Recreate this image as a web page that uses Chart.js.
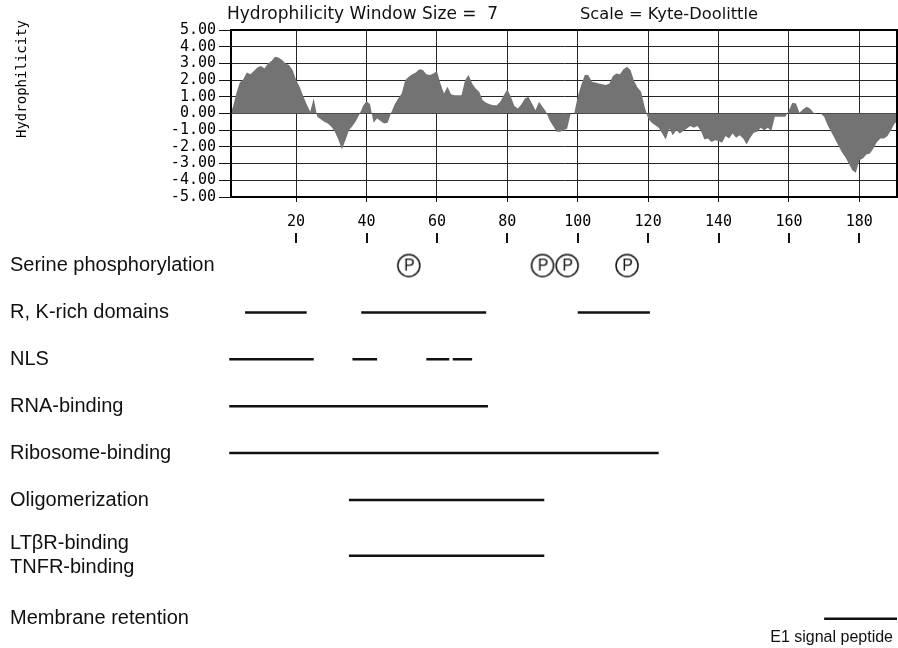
<!DOCTYPE html>
<html><head><meta charset="utf-8">
<script src="https://cdn.jsdelivr.net/npm/chart.js@4.4.1/dist/chart.umd.min.js"></script>
<style>
html,body{margin:0;padding:0;background:#fff;}
#wrap{position:relative;width:898px;height:648px;overflow:hidden;background:#fff;}
#c1{position:absolute;left:0;top:0;}
#c2{position:absolute;left:0;top:228px;}
</style></head><body>
<div id="wrap"><canvas id="c1" width="898" height="228"></canvas><canvas id="c2" width="898" height="420"></canvas></div>
<script>
// ---------- data ----------
const titleLeft = 'Hydrophilicity Window Size =  7';
const titleRight = 'Scale = Kyte-Doolittle';
const yAxisTitle = 'Hydrophilicity';
const firstResidue = 1;
const hydrophilicity = [
  0, 0.35, 1.2, 1.85, 2.05, 2.45, 2.35, 2.55, 2.75, 2.85,
  2.7, 3.0, 3.15, 3.4, 3.35, 3.2, 3.0, 2.9, 2.6, 2.0,
  1.6, 1.05, 0.55, 0.1, 0.9, -0.2, -0.35, -0.5, -0.6, -0.8,
  -1.1, -1.55, -2.15, -1.6, -1.0, -0.75, -0.45, -0.05, 0.45, 0.75,
  0.55, -0.55, -0.3, -0.45, -0.6, -0.55, 0.05, 0.55, 0.9, 1.2,
  2.0, 2.2, 2.35, 2.45, 2.65, 2.6, 2.35, 2.3, 2.4, 2.55,
  1.8, 1.2, 1.6, 1.15, 1.1, 1.1, 1.1, 2.0, 2.3, 1.8,
  1.5, 1.3, 0.8, 0.65, 0.55, 0.5, 0.5, 0.7, 1.1, 1.45,
  1.0, 0.45, 0.3, 0.55, 0.9, 1.0, 0.6, 0.2, 0.7, 0.4,
  0.1, -0.4, -0.75, -1.1, -1.1, -1.0, -0.9, 0, 0, 1.0,
  1.7, 2.3, 2.3, 1.9, 1.85, 1.8, 1.75, 1.7, 1.8, 2.25,
  2.4, 2.35, 2.65, 2.8, 2.6, 1.95, 1.55, 1.3, 0.4, -0.3,
  -0.55, -0.7, -0.85, -1.2, -1.55, -0.9, -1.3, -1.0, -1.2, -1.05,
  -0.9, -0.75, -0.85, -0.75, -1.05, -1.55, -1.5, -1.7, -1.6, -1.65,
  -1.75, -1.35, -1.5, -1.2, -1.45, -1.3, -1.5, -1.85, -1.45, -1.15,
  -1.1, -0.85, -1.0, -0.85, -1.05, -0.2, -0.2, -0.2, -0.2, 0.2,
  0.65, 0.6, 0.05, 0.25, 0.4, 0.3, 0.05, 0, 0, -0.2,
  -0.7, -1.1, -1.5, -1.9, -2.3, -2.6, -3.0, -3.4, -3.55, -2.8,
  -2.7, -2.45, -2.4, -2.1, -1.7, -1.5, -1.5, -1.35, -1.0, -0.6,
  -0.45
];
const residues = hydrophilicity.map((_, i) => firstResidue + i);
const xTickValues = [20, 40, 60, 80, 100, 120, 140, 160, 180];
const yTickValues = [-5, -4, -3, -2, -1, 0, 1, 2, 3, 4, 5];

const featureLabels = [
  'Serine phosphorylation',
  'R, K-rich domains',
  'NLS',
  'RNA-binding',
  'Ribosome-binding',
  'Oligomerization',
  ['LT\u03b2R-binding', 'TNFR-binding'],
  'Membrane retention'
];
const phosphoSites = [52, 90, 97, 114];
const rkRichDomains = [[5.5, 23], [38.5, 74], [100, 120.5]];
const nlsSegments = [[1, 25], [36, 43], [57, 63.5], [64.5, 70]];
const rnaBinding = [[1, 74.5]];
const ribosomeBinding = [[1, 123]];
const oligomerization = [[35, 90.5]];
const receptorBinding = [[35, 90.5]];
const membraneRetention = [[170, 190.7]];
const membraneNote = 'E1 signal peptide';

// ---------- layout (not data) ----------
const X_MIN = 1.5, X_MAX = 190.7;
const rowSlots = [0, 1, 2, 3, 4, 5, 6.19, 7.53];
const mono = "'DejaVu Sans Mono', monospace";
const sans = "'Liberation Sans', Arial, sans-serif";

Chart.defaults.animation = false;

// ---------- hydrophilicity plot ----------
const framePlugin = {
  id: 'frameAndTitles',
  afterDraw(chart) {
    const {ctx, chartArea: a} = chart;
    ctx.save();
    ctx.strokeStyle = '#000';
    ctx.lineWidth = 2;
    ctx.strokeRect(a.left, a.top, a.right - a.left, a.bottom - a.top);
    ctx.fillStyle = '#111';
    ctx.textBaseline = 'middle';
    ctx.textAlign = 'left';
    ctx.font = "17px 'DejaVu Sans', sans-serif";
    ctx.fillText(titleLeft, a.left - 4, 15);
    ctx.font = "16.3px 'DejaVu Sans', sans-serif";
    ctx.fillText(titleRight, a.left + 349, 15);
    // rotated y-axis title
    ctx.save();
    ctx.translate(22, a.top - 10);
    ctx.rotate(-Math.PI / 2);
    ctx.font = "14px " + mono;
    ctx.fillStyle = '#000';
    ctx.textAlign = 'right';
    ctx.textBaseline = 'middle';
    ctx.fillText(yAxisTitle, 0, 0);
    ctx.restore();
    ctx.restore();
  }
};

new Chart(document.getElementById('c1'), {
  type: 'line',
  data: {
    datasets: [{
      data: residues.map((r, i) => ({x: r, y: hydrophilicity[i]})),
      fill: 'origin',
      backgroundColor: '#737373',
      borderWidth: 0,
      pointRadius: 0,
      tension: 0
    }]
  },
  options: {
    responsive: false,
    animation: false,
    events: [],
    layout: {autoPadding: false, padding: {left: 0, right: 1, top: 30, bottom: 0}},
    plugins: {legend: {display: false}, tooltip: {enabled: false}},
    scales: {
      x: {
        type: 'linear', min: X_MIN, max: X_MAX, z: 1,
        afterBuildTicks: s => { s.ticks = xTickValues.map(v => ({value: v})); },
        afterFit: s => { s.height = 31; s.paddingLeft = 0; s.paddingRight = 0; },
        ticks: {font: {family: mono, size: 15}, color: '#000', padding: 11, autoSkip: false, maxRotation: 0,
                callback: v => String(v)},
        grid: {color: '#262626', lineWidth: 1, tickLength: 5, tickColor: '#111'},
        border: {color: '#000', width: 2}
      },
      y: {
        type: 'linear', min: -5, max: 5, z: 1,
        afterBuildTicks: s => { s.ticks = yTickValues.map(v => ({value: v})); },
        afterFit: s => { s.width = 231; s.paddingTop = 0; s.paddingBottom = 0; },
        ticks: {font: {family: mono, size: 15}, color: '#000', padding: 3, autoSkip: false,
                callback: v => Number(v).toFixed(2)},
        grid: {color: '#262626', lineWidth: 1, tickLength: 12, tickColor: '#111'},
        border: {color: '#000', width: 2}
      }
    }
  },
  plugins: [framePlugin]
});

// ---------- feature map ----------
function pIcon() {
  const c = document.createElement('canvas');
  c.width = 28; c.height = 28;
  const g = c.getContext('2d');
  g.strokeStyle = '#111';
  g.lineWidth = 1.5;
  g.beginPath(); g.arc(14, 14, 11, 0, Math.PI * 2); g.stroke();
  g.fillStyle = '#111';
  g.font = "16px 'Liberation Sans', Arial, sans-serif";
  g.textAlign = 'center'; g.textBaseline = 'middle';
  g.fillText('P', 14.5, 15);
  return c;
}

function segData(segs, slot) {
  const out = [];
  segs.forEach((s, i) => {
    if (i > 0) out.push({x: s[0], y: null});
    out.push({x: s[0], y: slot}, {x: s[1], y: slot});
  });
  return out;
}

const lineRows = [null, rkRichDomains, nlsSegments, rnaBinding, ribosomeBinding, oligomerization, receptorBinding, membraneRetention];
const featureSets = [{
  type: 'scatter',
  data: phosphoSites.map(r => ({x: r, y: rowSlots[0]})),
  pointStyle: pIcon(),
  pointRadius: 11,
  clip: false
}];
lineRows.forEach((segs, i) => {
  if (!segs) return;
  featureSets.push({
    type: 'line',
    data: segData(segs, rowSlots[i]),
    borderColor: '#111',
    borderWidth: 2.5,
    borderCapStyle: 'butt',
    pointRadius: 0,
    spanGaps: false,
    clip: false
  });
});

const notePlugin = {
  id: 'membraneNote',
  afterDatasetsDraw(chart) {
    const {ctx, scales: {x, y}} = chart;
    ctx.save();
    ctx.fillStyle = '#111';
    ctx.font = "16px 'Liberation Sans', Arial, sans-serif";
    ctx.textAlign = 'right';
    ctx.textBaseline = 'middle';
    ctx.fillText(membraneNote, x.getPixelForValue(membraneRetention[0][1]) - 4, y.getPixelForValue(rowSlots[7]) + 19);
    ctx.restore();
  }
};

new Chart(document.getElementById('c2'), {
  type: 'line',
  data: {datasets: featureSets},
  options: {
    responsive: false,
    animation: false,
    events: [],
    layout: {autoPadding: false, padding: {left: 10, right: 1, top: 5, bottom: 0}},
    plugins: {legend: {display: false}, tooltip: {enabled: false}},
    scales: {
      x: {
        type: 'linear', position: 'top', min: X_MIN, max: X_MAX,
        afterBuildTicks: s => { s.ticks = xTickValues.map(v => ({value: v})); },
        afterFit: s => { s.height = 10; s.paddingLeft = 0; s.paddingRight = 0; },
        ticks: {display: false},
        grid: {drawOnChartArea: false, drawTicks: true, tickLength: 10, lineWidth: 2, tickColor: '#111', color: '#111'},
        border: {display: false}
      },
      y: {
        type: 'linear', reverse: true, min: -0.48, max: 8.156,
        afterBuildTicks: s => { s.ticks = rowSlots.map(v => ({value: v})); },
        afterFit: s => { s.width = 221; s.paddingTop = 0; s.paddingBottom = 0; },
        ticks: {font: {family: sans, size: 20}, color: '#111', crossAlign: 'far', padding: 0, autoSkip: false,
                callback: (v, i) => featureLabels[i]},
        grid: {display: false},
        border: {display: false}
      }
    }
  },
  plugins: [notePlugin]
});
</script>
</body></html>
